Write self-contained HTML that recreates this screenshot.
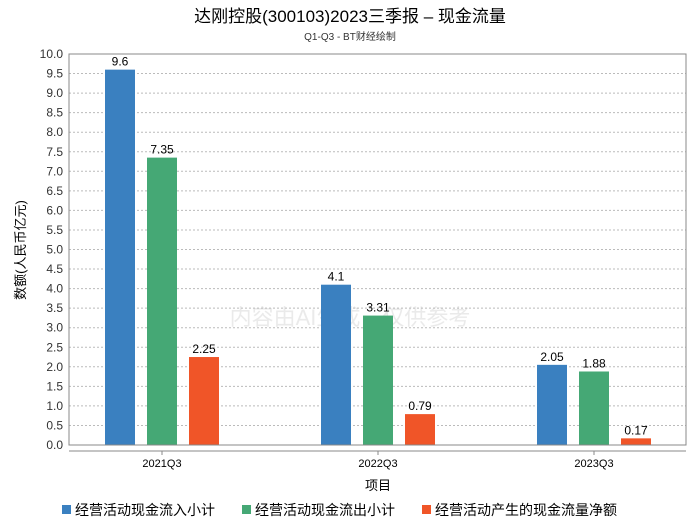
<!DOCTYPE html>
<html><head><meta charset="utf-8"><style>
body{margin:0;background:#fff;}
svg text{font-family:"Liberation Sans","Noto Sans CJK SC",sans-serif;}
</style></head><body>
<svg width="700" height="524" id="c">
<text x="350" y="22" text-anchor="middle" font-size="17" fill="#000">达刚控股(300103)2023三季报 – 现金流量</text>
<text x="350" y="40" text-anchor="middle" font-size="10" fill="#333">Q1-Q3 - BT财经绘制</text>
<text x="350" y="325" text-anchor="middle" font-size="22" fill="#ddd" opacity="0.6">内容由AI生成，仅供参考</text>
<g id="grid"></g><g id="bars"></g><g id="axes"></g>
<text transform="translate(25,250) rotate(-90)" text-anchor="middle" font-size="13">数额(人民币亿元)</text>
<text x="378" y="490" text-anchor="middle" font-size="13">项目</text>
<g id="legend"></g>
</svg>
<script>
const categories=["2021Q3","2022Q3","2023Q3"];
const seriesNames=["经营活动现金流入小计","经营活动现金流出小计","经营活动产生的现金流量净额"];
const inflow=[9.6,4.1,2.05];
const outflow=[7.35,3.31,1.88];
const net=[2.25,0.79,0.17];
const colors=["#3a80c0","#45a875","#f05528"];
const series=[inflow,outflow,net];
const NS="http://www.w3.org/2000/svg";
const L=69,R=686,T=54,B=445;
const y=v=>B-(v/10)*(B-T);
const xc=i=>162+216*i;
function mk(tag,a,p,txt){const e=document.createElementNS(NS,tag);for(const k in a)e.setAttribute(k,a[k]);if(txt!==undefined)e.textContent=txt;p.appendChild(e);return e;}
const g=document.getElementById('grid'),ax=document.getElementById('axes'),bg=document.getElementById('bars'),lg=document.getElementById('legend');
for(let i=0;i<=20;i++){const v=i*0.5;
 const l=mk('line',{x1:L,x2:R,y1:y(v),y2:y(v),stroke:'#bbb','stroke-dasharray':'2,2'},g);
 
 const t=mk('text',{x:L-6,y:y(v)+4,'text-anchor':'end','font-size':12,fill:'#333'},ax,v.toFixed(1));
 }
mk('rect',{x:L,y:T,width:R-L,height:B-T,fill:'none',stroke:'#888'},ax);
mk('line',{x1:L,x2:R,y1:451,y2:451,stroke:'#888'},ax);
categories.forEach((c,i)=>{
 const t=mk('text',{x:xc(i),y:467,'text-anchor':'middle','font-size':11},ax,c);
 
 mk('line',{x1:xc(i),x2:xc(i),y1:451,y2:455,stroke:'#888'},ax);
 series.forEach((s,j)=>{
  const x=xc(i)-57+42*j;
  const r=mk('rect',{x:x,y:y(s[i]),width:30,height:B-y(s[i]),fill:colors[j]},bg);
  
  const t=mk('text',{x:x+15,y:y(s[i])-4,'text-anchor':'middle','font-size':12},bg,String(s[i]));
  
 });
});
let lx=62;const lw=[172,172,238];
seriesNames.forEach((n,j)=>{
 const r=mk('rect',{x:lx,y:505,width:9,height:9,fill:colors[j]},lg);
 
 const t=mk('text',{x:lx+13,y:515,'font-size':14},lg,n);
 
 lx+=lw[j]+8;
});
</script>
</body></html>
